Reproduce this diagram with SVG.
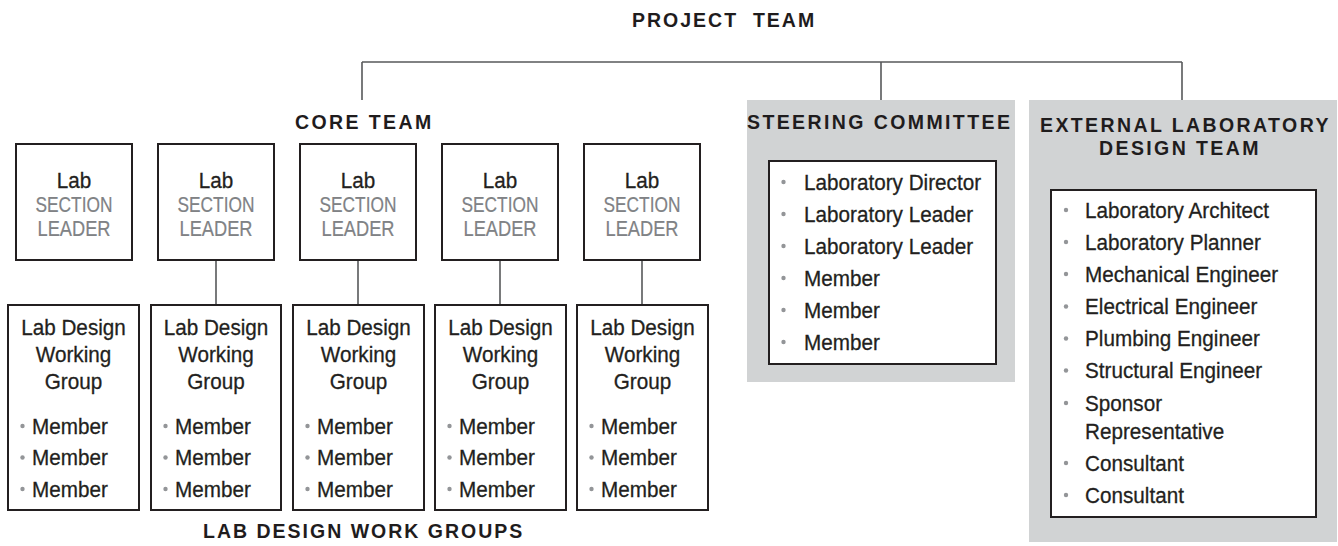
<svg xmlns="http://www.w3.org/2000/svg" width="1338" height="546" viewBox="0 0 1338 546">
<style>
text{font-family:"Liberation Sans",Arial,sans-serif;fill:#231f20}
.t{font-size:19.5px;font-weight:bold;letter-spacing:2.4px;fill:#1f1c1d}
.r{font-size:22.5px;stroke:#231f20;stroke-width:0.3;transform-box:fill-box;transform-origin:0 0;transform:scaleX(0.92)}
.c{text-anchor:middle;transform-origin:50% 50%}
.g{fill:#808285;font-size:21.5px;stroke:#808285;stroke-width:0.2}
.box{fill:#fff;stroke:#231f20;stroke-width:2}
.panel{fill:#d1d3d4}
.ln{stroke:#58595b;stroke-width:1.6;fill:none}
.b{fill:#939598}
</style>
<rect width="1338" height="546" fill="#fff"/>
<g id="connectors">
<path class="ln" d="M362 62H1182M362 62V100M881 62V100M1182 62V100"/>
<path class="ln" d="M216 260V305M358 260V305M500 260V305M642 260V305"/>
</g>
<g id="project-team"><text class="t" x="632" y="26.7" style="letter-spacing:2px">PROJECT&#160; TEAM</text></g>
<g id="core-team"><text class="t" x="295" y="129">CORE TEAM</text></g>
<g id="leader1"><rect class="box" x="16" y="144" width="116" height="116"/>
<text class="r c" x="74" y="187.7">Lab</text><text class="g c" x="74" y="212" textLength="77" lengthAdjust="spacingAndGlyphs">SECTION</text><text class="g c" x="74" y="236" textLength="73" lengthAdjust="spacingAndGlyphs">LEADER</text></g>
<g id="leader2"><rect class="box" x="158" y="144" width="116" height="116"/>
<text class="r c" x="216" y="187.7">Lab</text><text class="g c" x="216" y="212" textLength="77" lengthAdjust="spacingAndGlyphs">SECTION</text><text class="g c" x="216" y="236" textLength="73" lengthAdjust="spacingAndGlyphs">LEADER</text></g>
<g id="leader3"><rect class="box" x="300" y="144" width="116" height="116"/>
<text class="r c" x="358" y="187.7">Lab</text><text class="g c" x="358" y="212" textLength="77" lengthAdjust="spacingAndGlyphs">SECTION</text><text class="g c" x="358" y="236" textLength="73" lengthAdjust="spacingAndGlyphs">LEADER</text></g>
<g id="leader4"><rect class="box" x="442" y="144" width="116" height="116"/>
<text class="r c" x="500" y="187.7">Lab</text><text class="g c" x="500" y="212" textLength="77" lengthAdjust="spacingAndGlyphs">SECTION</text><text class="g c" x="500" y="236" textLength="73" lengthAdjust="spacingAndGlyphs">LEADER</text></g>
<g id="leader5"><rect class="box" x="584" y="144" width="116" height="116"/>
<text class="r c" x="642" y="187.7">Lab</text><text class="g c" x="642" y="212" textLength="77" lengthAdjust="spacingAndGlyphs">SECTION</text><text class="g c" x="642" y="236" textLength="73" lengthAdjust="spacingAndGlyphs">LEADER</text></g>
<g id="group1"><rect class="box" x="8" y="305" width="131" height="205"/>
<text class="r c" x="73.5" y="335">Lab Design</text><text class="r c" x="73.5" y="362">Working</text><text class="r c" x="73.5" y="389">Group</text>
<circle class="b" cx="22.5" cy="426" r="2.2"/><circle class="b" cx="22.5" cy="457.5" r="2.2"/><circle class="b" cx="22.5" cy="489" r="2.2"/>
<text class="r" x="32" y="434">Member</text><text class="r" x="32" y="465.5">Member</text><text class="r" x="32" y="497">Member</text></g>
<g id="group2"><rect class="box" x="151" y="305" width="130" height="205"/>
<text class="r c" x="216" y="335">Lab Design</text><text class="r c" x="216" y="362">Working</text><text class="r c" x="216" y="389">Group</text>
<circle class="b" cx="165.5" cy="426" r="2.2"/><circle class="b" cx="165.5" cy="457.5" r="2.2"/><circle class="b" cx="165.5" cy="489" r="2.2"/>
<text class="r" x="175" y="434">Member</text><text class="r" x="175" y="465.5">Member</text><text class="r" x="175" y="497">Member</text></g>
<g id="group3"><rect class="box" x="293" y="305" width="131" height="205"/>
<text class="r c" x="358.5" y="335">Lab Design</text><text class="r c" x="358.5" y="362">Working</text><text class="r c" x="358.5" y="389">Group</text>
<circle class="b" cx="307.5" cy="426" r="2.2"/><circle class="b" cx="307.5" cy="457.5" r="2.2"/><circle class="b" cx="307.5" cy="489" r="2.2"/>
<text class="r" x="317" y="434">Member</text><text class="r" x="317" y="465.5">Member</text><text class="r" x="317" y="497">Member</text></g>
<g id="group4"><rect class="box" x="435" y="305" width="131" height="205"/>
<text class="r c" x="500.5" y="335">Lab Design</text><text class="r c" x="500.5" y="362">Working</text><text class="r c" x="500.5" y="389">Group</text>
<circle class="b" cx="449.5" cy="426" r="2.2"/><circle class="b" cx="449.5" cy="457.5" r="2.2"/><circle class="b" cx="449.5" cy="489" r="2.2"/>
<text class="r" x="459" y="434">Member</text><text class="r" x="459" y="465.5">Member</text><text class="r" x="459" y="497">Member</text></g>
<g id="group5"><rect class="box" x="577" y="305" width="131" height="205"/>
<text class="r c" x="642.5" y="335">Lab Design</text><text class="r c" x="642.5" y="362">Working</text><text class="r c" x="642.5" y="389">Group</text>
<circle class="b" cx="591.5" cy="426" r="2.2"/><circle class="b" cx="591.5" cy="457.5" r="2.2"/><circle class="b" cx="591.5" cy="489" r="2.2"/>
<text class="r" x="601" y="434">Member</text><text class="r" x="601" y="465.5">Member</text><text class="r" x="601" y="497">Member</text></g>
<g id="work-groups-label"><text class="t" x="203" y="538" style="letter-spacing:2px">LAB DESIGN WORK GROUPS</text></g>
<g id="steering-committee">
<rect class="panel" x="747" y="100" width="268" height="282"/>
<text class="t" x="747" y="129">STEERING COMMITTEE</text>
<rect class="box" x="769" y="161" width="227" height="203"/>
<circle class="b" cx="783.5" cy="182" r="2.2"/><circle class="b" cx="783.5" cy="214" r="2.2"/><circle class="b" cx="783.5" cy="246" r="2.2"/><circle class="b" cx="783.5" cy="278" r="2.2"/><circle class="b" cx="783.5" cy="310" r="2.2"/><circle class="b" cx="783.5" cy="342" r="2.2"/>
<text class="r" x="804" y="190">Laboratory Director</text>
<text class="r" x="804" y="222">Laboratory Leader</text>
<text class="r" x="804" y="254">Laboratory Leader</text>
<text class="r" x="804" y="286">Member</text>
<text class="r" x="804" y="318">Member</text>
<text class="r" x="804" y="350">Member</text>
</g>
<g id="external-design-team">
<rect class="panel" x="1029" y="100" width="308" height="442"/>
<text class="t" x="1040" y="131.7">EXTERNAL LABORATORY</text>
<text class="t" x="1099" y="155">DESIGN TEAM</text>
<rect class="box" x="1051" y="190" width="265" height="327"/>
<circle class="b" cx="1066" cy="210" r="2.2"/><circle class="b" cx="1066" cy="242" r="2.2"/><circle class="b" cx="1066" cy="274" r="2.2"/><circle class="b" cx="1066" cy="306.5" r="2.2"/><circle class="b" cx="1066" cy="338.5" r="2.2"/><circle class="b" cx="1066" cy="370.5" r="2.2"/><circle class="b" cx="1066" cy="403" r="2.2"/><circle class="b" cx="1066" cy="463" r="2.2"/><circle class="b" cx="1066" cy="495" r="2.2"/>
<text class="r" x="1085" y="218">Laboratory Architect</text>
<text class="r" x="1085" y="250">Laboratory Planner</text>
<text class="r" x="1085" y="282">Mechanical Engineer</text>
<text class="r" x="1085" y="314.5">Electrical Engineer</text>
<text class="r" x="1085" y="346.5">Plumbing Engineer</text>
<text class="r" x="1085" y="378.5">Structural Engineer</text>
<text class="r" x="1085" y="411">Sponsor</text>
<text class="r" x="1085" y="439">Representative</text>
<text class="r" x="1085" y="471">Consultant</text>
<text class="r" x="1085" y="503">Consultant</text>
</g>
</svg>
